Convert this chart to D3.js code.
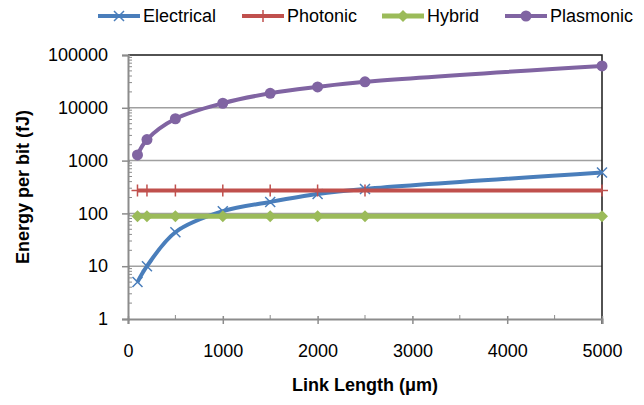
<!DOCTYPE html>
<html>
<head>
<meta charset="utf-8">
<script src="https://cdn.jsdelivr.net/npm/d3@7"></script>
<style>
  body { margin: 0; background: #fff; }
  text { font-family: "Liberation Sans", Arial, sans-serif; fill: #000; }
</style>
</head>
<body>
<div id="chart"></div>
<script>
// link lengths (um) for every series
var lengths = [100, 200, 500, 1000, 1500, 2000, 2500, 5000];
// energy per bit (fJ)
var electrical = [5, 10, 44, 110, 165, 233, 290, 595];
var photonic = [270, 270, 270, 270, 270, 270, 270, 270];
var hybrid = [88, 88, 88, 88, 88, 88, 88, 88];
var plasmonic = [1280, 2500, 6200, 12200, 18800, 24800, 31000, 62000];

var seriesNames = ["Electrical", "Photonic", "Hybrid", "Plasmonic"];
var xTicks = [0, 1000, 2000, 3000, 4000, 5000];
var yTicks = [1, 10, 100, 1000, 10000, 100000];

var W = 644, H = 405;
var plotL = 128, plotR = 602, plotT = 55, plotB = 319;

var svg = d3.select("#chart").append("svg")
  .attr("width", W)
  .attr("height", H);

var x = d3.scaleLinear().domain([0, 5000]).range([plotL, plotR]);
var y = d3.scaleLog().domain([1, 100000]).range([plotB, plotT]);

//gridlines at each decade
svg.selectAll(".grid").data(yTicks.slice(1, 5)).enter().append("line")
  .attr("x1", plotL).attr("x2", plotR)
  .attr("y1", function(d){ return y(d); })
  .attr("y2", function(d){ return y(d); })
  .attr("stroke", "#a0a0a0")
  .attr("stroke-width", 1.5);

//black border on top and right
svg.append("path")
  .attr("d", "M" + plotL + "," + y(100000) + "H" + plotR + "V" + (plotB + 5))
  .attr("fill", "none")
  .attr("stroke", "#1a1a1a")
  .attr("stroke-width", 1.5);

//minor ticks on the y axis (inside)
var minor = [];
for (var k = 0; k < 5; k++) {
  for (var m = 2; m <= 9; m++) minor.push(m * Math.pow(10, k));
}
svg.selectAll(".ymin").data(minor).enter().append("line")
  .attr("x1", plotL).attr("x2", plotL + 4)
  .attr("y1", function(d){ return y(d); })
  .attr("y2", function(d){ return y(d); })
  .attr("stroke", "#8c8c8c")
  .attr("stroke-width", 1);

//y axis with major ticks outside
var yAxis = svg.append("g")
  .attr("transform", "translate(" + plotL + ",0)")
  .call(d3.axisLeft(y).tickValues(yTicks).tickFormat(d3.format("d")).tickSize(6).tickPadding(14));

//x axis, major ticks cross the line
var xAxis = svg.append("g")
  .attr("transform", "translate(0," + plotB + ")")
  .call(d3.axisBottom(x).tickValues(xTicks).tickFormat(d3.format("d")).tickSize(5).tickPadding(20));

//minor x ticks at 500 (inside)
svg.selectAll(".xmin").data([500, 1500, 2500, 3500, 4500]).enter().append("line")
  .attr("x1", function(d){ return x(d); })
  .attr("x2", function(d){ return x(d); })
  .attr("y1", plotB).attr("y2", plotB - 4)
  .attr("stroke", "#8c8c8c")
  .attr("stroke-width", 1);

[yAxis, xAxis].forEach(function(g) {
  g.select(".domain").attr("stroke", "#8c8c8c").attr("stroke-width", 2);
  g.selectAll(".tick line").attr("stroke", "#8c8c8c").attr("stroke-width", 1.5);
  g.selectAll(".tick text")
    .style("font-family", "'Liberation Sans', Arial, sans-serif")
    .style("font-size", "18px")
    .attr("fill", "#000");
});
xAxis.selectAll(".tick line").attr("y1", -3);
yAxis.selectAll(".tick line").attr("x1", 2);

//axis titles
svg.append("text")
  .attr("x", 365).attr("y", 391)
  .attr("text-anchor", "middle")
  .style("font-size", "18px").style("font-weight", "bold")
  .text("Link Length (\u03bcm)");

svg.append("text")
  .attr("transform", "translate(29,187) rotate(-90)")
  .attr("text-anchor", "middle")
  .style("font-size", "18px").style("font-weight", "bold")
  .text("Energy per bit (fJ)");

var colors = {Electrical: "#4a7ebb", Photonic: "#c0504d", Hybrid: "#9bbb59", Plasmonic: "#8064a2"};
var values = {Electrical: electrical, Photonic: photonic, Hybrid: hybrid, Plasmonic: plasmonic};
var curves = {Electrical: d3.curveCatmullRom, Photonic: d3.curveLinear, Hybrid: d3.curveLinear, Plasmonic: d3.curveCatmullRom};
var widths = {Electrical: 4, Photonic: 4, Hybrid: 5, Plasmonic: 4};

//draws one marker for a series at px,py
function marker(g, name, px, py) {
  var c = colors[name];
  if (name == "Electrical") {
    g.append("path")
      .attr("d", "M" + (px - 5) + "," + (py - 5) + "L" + (px + 5) + "," + (py + 5) +
                 "M" + (px - 5) + "," + (py + 5) + "L" + (px + 5) + "," + (py - 5))
      .attr("stroke", c).attr("stroke-width", 1.5).attr("fill", "none");
  } else if (name == "Photonic") {
    g.append("path")
      .attr("d", "M" + px + "," + (py - 6) + "V" + (py + 6) + "M" + (px - 6) + "," + py + "H" + (px + 6))
      .attr("stroke", c).attr("stroke-width", 1.5).attr("fill", "none");
  } else if (name == "Hybrid") {
    g.append("path")
      .attr("d", "M" + px + "," + (py - 6) + "L" + (px + 6) + "," + py + "L" + px + "," + (py + 6) + "L" + (px - 6) + "," + py + "Z")
      .attr("fill", c);
  } else {
    g.append("circle").attr("cx", px).attr("cy", py).attr("r", 5.5).attr("fill", c);
  }
}

seriesNames.forEach(function(name) {
  var pts = lengths.map(function(l, i){ return {x: l, y: values[name][i]}; });
  var line = d3.line()
    .x(function(d){ return x(d.x); })
    .y(function(d){ return y(d.y); })
    .curve(curves[name]);
  var g = svg.append("g");
  g.append("path")
    .attr("d", line(pts))
    .attr("fill", "none")
    .attr("stroke", colors[name])
    .attr("stroke-width", widths[name])
    .attr("stroke-linejoin", "round");
  pts.forEach(function(p) { marker(g, name, x(p.x), y(p.y)); });
});

//legend
var legendX = [98, 242, 382, 505];
seriesNames.forEach(function(name, i) {
  var g = svg.append("g");
  var lx = legendX[i];
  g.append("line")
    .attr("x1", lx).attr("x2", lx + 42)
    .attr("y1", 16).attr("y2", 16)
    .attr("stroke", colors[name]).attr("stroke-width", widths[name]);
  marker(g, name, lx + 21, 16);
  g.append("text")
    .attr("x", lx + 45).attr("y", 22)
    .style("font-size", "18px")
    .text(name);
});
</script>
</body>
</html>
